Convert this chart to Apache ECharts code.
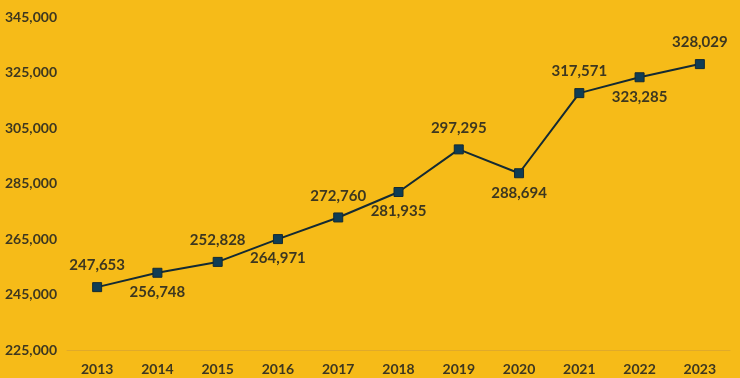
<!DOCTYPE html>
<html>
<head>
<meta charset="utf-8">
<script src="https://cdn.jsdelivr.net/npm/echarts@6/dist/echarts.min.js"></script>
<style>
  html, body { margin: 0; padding: 0; background: #f6bb18; }
  #chart { width: 740px; height: 378px; }
</style>
</head>
<body>
<div id="chart"></div>
<script>
const years = ['2013', '2014', '2015', '2016', '2017', '2018', '2019', '2020', '2021', '2022', '2023'];
const values = [247653, 252828, 256748, 264971, 272760, 281935, 297295, 288694, 317571, 323285, 328029];
// label texts as printed in the picture (2014/2015 appear swapped there)
const labelTexts = ['247,653', '256,748', '252,828', '264,971', '272,760', '281,935', '297,295', '288,694', '317,571', '323,285', '328,029'];
const labelSide = ['top', 'bottom', 'top', 'bottom', 'top', 'bottom', 'top', 'bottom', 'top', 'bottom', 'top'];

const textColor = '#3d3720';
const font = 'Lato, "Open Sans", sans-serif';

const chart = echarts.init(document.getElementById('chart'));
chart.setOption({
  backgroundColor: '#f6bb18',
  animation: false,
  grid: { left: 67, right: 10, top: 17, bottom: 28 },
  xAxis: {
    type: 'category',
    data: years,
    axisLine: { show: true, lineStyle: { color: '#e0aa2a', width: 1 } },
    axisTick: { show: false },
    axisLabel: { color: textColor, fontFamily: font, fontWeight: 'bold', fontSize: 14, margin: 12 }
  },
  yAxis: {
    type: 'value',
    min: 225000,
    max: 345000,
    interval: 20000,
    splitLine: { show: false },
    axisLine: { show: false },
    axisTick: { show: false },
    axisLabel: {
      color: textColor, fontFamily: font, fontWeight: 'bold', fontSize: 14,
      align: 'left', margin: 62,
      formatter: v => v.toLocaleString('en-US')
    }
  },
  series: [{
    type: 'line',
    data: values.map((v, i) => ({
      value: v,
      label: { position: labelSide[i], distance: labelSide[i] === 'top' ? 9 : 7 }
    })),
    symbol: 'rect',
    symbolSize: 9,
    lineStyle: { color: '#142a33', width: 2 },
    itemStyle: { color: '#0f3d55', borderColor: '#142a33', borderWidth: 1 },
    label: {
      show: true,
      color: textColor,
      fontFamily: font,
      fontWeight: 'bold',
      fontSize: 15,
      formatter: p => labelTexts[p.dataIndex]
    }
  }]
});
</script>
</body>
</html>
